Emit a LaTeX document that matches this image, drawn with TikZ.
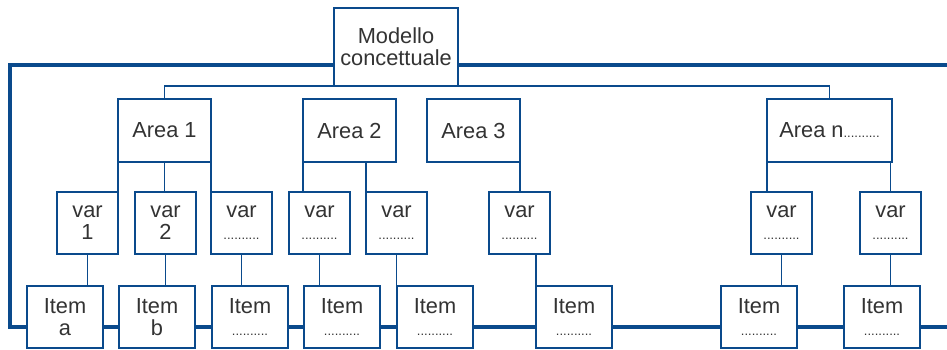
\documentclass[tikz,border=0pt]{standalone}
\usepackage{fontspec}
\setmainfont{Liberation Sans}
\usetikzlibrary{positioning,calc}

\definecolor{modblue}{RGB}{10,74,140}
\definecolor{modtext}{RGB}{51,51,51}
\newcommand{\dts}{{\fontsize{13}{13}\selectfont ..........}}

\tikzset{
  box/.style={draw=modblue, line width=2pt, fill=white, text=modtext, inner sep=0pt,
    outer sep=0pt, align=center, anchor=north west, font=\fontsize{21.8}{22}\selectfont},
  areabox/.style={box, minimum width=93pt, minimum height=63pt},
  varbox/.style={box, minimum width=61pt, minimum height=62pt},
  itembox/.style={box, minimum width=76pt, minimum height=62pt},
  link/.style={draw=modblue, line width=1.5pt},
  spine/.style={draw=modblue, line width=4.5pt}
}

\begin{document}
\begin{tikzpicture}[x=1pt,y=-1pt]
  \useasboundingbox (0,0) rectangle (947,349);
  % root
  \node[box, minimum width=124pt, minimum height=78pt] (model) at (334,8) {Modello\\concettuale};
  % areas
  \node[areabox] (a1) at (118,99) {Area 1};
  \node[areabox] (a2) at (303,99) {Area 2};
  \node[areabox] (a3) at (427,99) {Area 3};
  \node[areabox, minimum width=125pt] (an) at (767,99) {Area n\dts};
  % variables
  \foreach \n/\x/\t in {v1/57/1, v2/135/2, v3/211/\dts, v4/289/\dts, v5/366/\dts,
      v6/489/\dts, v7/751/\dts, v8/860/\dts} {
    \node[varbox] (\n) at (\x,192) {var\\\t};
  }
  % items
  \foreach \n/\x/\t in {i1/27/a, i2/119/b, i3/212/\dts, i4/304/\dts, i5/397/\dts,
      i6/536/\dts, i7/721/\dts, i8/844/\dts} {
    \node[itembox] (\n) at (\x,286) {Item\\\t};
  }
  % root to areas
  \draw[link] (a1.north) |- (model.south) -| (an.north);
  % areas to variables
  \draw[link] (a1.south west) -- (v1.north east);
  \draw[link] (a1.south) -- (a1.south |- v2.north);
  \draw[link] (a1.south east) -- (v3.north west);
  \draw[link] (a2.south west) -- (a2.south west |- v4.north);
  \draw[link] (v5.north west |- a2.south) -- (v5.north west);
  \draw[link] (a3.south east) -- (a3.south east |- v6.north);
  \draw[link] (an.south west) -- (an.south west |- v7.north);
  \draw[link] (v8.north |- an.south) -- (v8.north);
  % variables to items
  \foreach \v/\i in {v1/i1, v2/i2, v3/i3, v4/i4, v5/i5, v7/i7, v8/i8} {
    \draw[link] (\v.south) -- (\v.south |- \i.north);
  }
  \draw[link] (i6.north west |- v6.south) -- (i6.north west);
  % thick frame line
  \coordinate (tl) at (10,65);
  \coordinate (tr) at (947,65);
  \coordinate (br) at (947,327);
  \draw[spine] (model.west |- tl) -- (tl) |- (i1.west |- br);
  \draw[spine] (model.east |- tr) -- (tr);
  \foreach \a/\b in {i1/i2, i2/i3, i3/i4, i4/i5, i5/i6, i6/i7, i7/i8} {
    \draw[spine] (\a.east |- br) -- (\b.west |- br);
  }
  \draw[spine] (i8.east |- br) -- (br);
\end{tikzpicture}
\end{document}
